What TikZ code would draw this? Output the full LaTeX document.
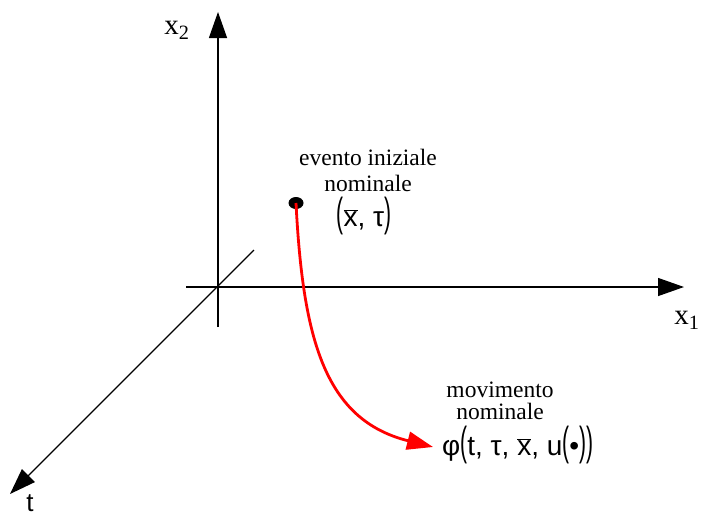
\documentclass[tikz,border=0pt]{standalone}
\usepackage{fontspec}
\setmainfont{Liberation Serif}
\newfontfamily\symf{Liberation Sans}
\usetikzlibrary{arrows.meta,shapes.geometric}
\newcommand{\tallp}[1]{\scalebox{0.75}[1.45]{#1}}
\newcommand{\xbar}{\raisebox{0pt}{$\overline{\hbox{\symf x}}$}}
\begin{document}
\begin{tikzpicture}[x=1pt,y=-1pt,
  axis/.style={line width=1.3pt,-{Triangle[length=26pt,width=18pt]}},
  lbl/.style={font=\fontsize{23.5}{26}\selectfont,align=center,inner sep=0pt},
  axlbl/.style={font=\fontsize{29}{30}\selectfont,inner sep=0pt},
  mth/.style={font=\fontsize{28}{30}\selectfont\symf,inner sep=0pt}]
\useasboundingbox (0,0) rectangle (701,517);
% axes
\coordinate (v0) at (218,327);
\coordinate (v1) at (218,12);
\coordinate (h0) at (186,287);
\coordinate (h1) at (684,287);
\coordinate (d0) at (254,250);
\coordinate (d1) at (10,494);
\draw[axis] (v0) -- (v1);
\draw[axis] (h0) -- (h1);
\draw[axis] (d0) -- (d1);
\node[axlbl] (lx2) at (177,30) {x\textsubscript{2}};
\node[axlbl] (lx1) at (687,320) {x\textsubscript{1}};
\node[axlbl] (lt) at (30,503) {\symf\fontsize{26}{26}\selectfont t};
% initial event
\node[ellipse,fill=black,minimum width=15pt,minimum height=12pt,inner sep=0pt] (dot) at (296,203) {};
\node[lbl] (ev) at (368,170) {evento iniziale\\nominale};
\node[mth] (xt) at (364,216) {\tallp{(}\xbar, τ\tallp{)}};
% motion
\coordinate (tip) at (433,447);
\draw[red,line width=2.8pt,-{Triangle[length=26pt,width=18pt]}]
  (dot.center) .. controls (303,340) and (325,420) .. (tip);
\node[lbl,font=\fontsize{23.5}{22.5}\selectfont] (mv) at (500,401) {movimento\\nominale};
\node[mth,anchor=west] (phi) at (442,445) {φ\tallp{(}t, τ, \xbar, u\tallp{(}•\tallp{)}\tallp{)}};
\end{tikzpicture}
\end{document}
